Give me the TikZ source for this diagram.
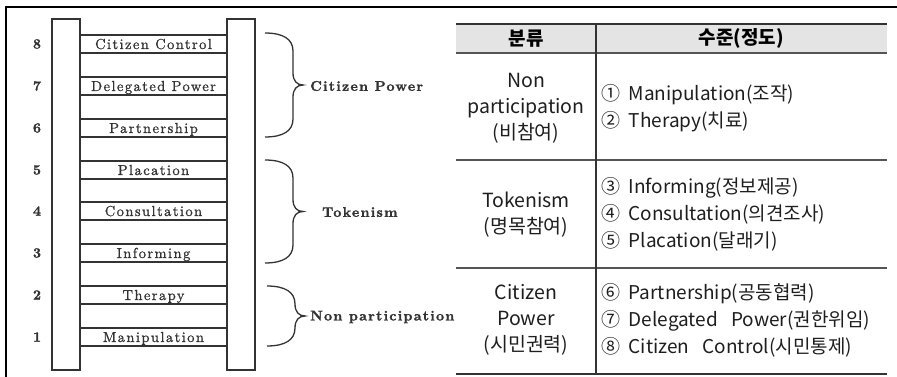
\documentclass[tikz,border=0pt]{standalone}
\usepackage{fontspec}
\newfontfamily\ladfont[LetterSpace=10, FakeBold=1]{lmroman10-regular.otf}
\newfontfamily\grpfont[LetterSpace=9, FakeBold=1.5]{lmroman10-bold.otf}
\newfontfamily\numfont[FakeBold=1.5]{lmroman10-bold.otf}
\newfontfamily\krfont{Noto Sans CJK KR}
\definecolor{ink}{HTML}{333333}
\definecolor{rule}{HTML}{555555}
\definecolor{hdrgray}{HTML}{E4E4E4}
\definecolor{txt}{HTML}{1E1E1E}
\newcommand\bracepath[3]{%
  \draw[braceline] (#1,#2) .. controls ({#1+18},#2) and ({#1+28},{#2+6}) .. ({#1+28},{#2+18})
    -- ({#1+28},{(#2+#3)/2-12}) .. controls ({#1+28},{(#2+#3)/2-4}) and ({#1+32},{(#2+#3)/2}) .. ({#1+38},{(#2+#3)/2})
    .. controls ({#1+32},{(#2+#3)/2}) and ({#1+28},{(#2+#3)/2+4}) .. ({#1+28},{(#2+#3)/2+12})
    -- ({#1+28},{#3-18}) .. controls ({#1+28},{#3-6}) and ({#1+18},#3) .. (#1,#3);}
\begin{document}
\begin{tikzpicture}[x=1pt,y=-1pt,
  rail/.style={draw=ink, line width=2pt, fill=white, minimum width=28pt, minimum height=351pt, inner sep=0pt},
  rung/.style={draw=ink, line width=1.4pt, minimum width=147pt, minimum height=18pt, inner sep=0pt,
    font=\ladfont\fontsize{14.5}{16}\selectfont, text=ink, text height=13pt, text depth=3pt},
  num/.style={font=\numfont\fontsize{14}{16}\selectfont, text=ink, inner sep=0pt},
  grp/.style={font=\grpfont\fontsize{14}{16}\selectfont, text=ink, anchor=west, inner sep=0pt},
  braceline/.style={draw=ink, line width=1.3pt},
  frame/.style={draw=black, line width=1.6pt},
  topline/.style={draw=ink, line width=2pt},
  midline/.style={draw=rule, line width=1.2pt},
  colline/.style={draw=ink, line width=1.4pt},
  kh/.style={font=\krfont\bfseries\fontsize{19}{22}\selectfont, text=black, inner sep=0pt},
  kc/.style={font=\krfont\fontsize{19.5}{26}\selectfont, text=txt, align=center, inner sep=0pt},
  kl/.style={font=\krfont\fontsize{19}{27}\selectfont, text=txt, align=left, anchor=west, inner sep=0pt}
]
\useasboundingbox (0,0) rectangle (897,377);
% outer frame
\draw[frame] (897,7) -- (6,7) -- (6,377);
% rungs
\node[rung] (r8) at (153.5,44) {Citizen Control};
\node[rung] (r7) at (153.5,86) {Delegated Power};
\node[rung] (r6) at (153.5,128) {Partnership};
\node[rung] (r5) at (153.5,170) {Placation};
\node[rung] (r4) at (153.5,211) {Consultation};
\node[rung] (r3) at (153.5,253) {Informing};
\node[rung] (r2) at (153.5,295) {Therapy};
\node[rung] (r1) at (153.5,337) {Manipulation};
% rails
\node[rail] (railL) at (66,194.5) {};
\node[rail] (railR) at (241,194.5) {};
% numbers
\node[num] (n8) at (37,44) {8};
\node[num] (n7) at (37,86) {7};
\node[num] (n6) at (37,128) {6};
\node[num] (n5) at (37,170) {5};
\node[num] (n4) at (37,211) {4};
\node[num] (n3) at (37,253) {3};
\node[num] (n2) at (37,295) {2};
\node[num] (n1) at (37,337) {1};
% braces
\bracepath{265}{33}{137}
\bracepath{265}{160}{263}
\bracepath{267}{286}{346}
\node[grp] (gcp) at (310,86) {Citizen Power};
\node[grp] (gtk) at (322,212) {Tokenism};
\node[grp] (gnp) at (310,317) {Non participation};
% table
\fill[hdrgray] (456,24) rectangle (887,53);
\draw[topline] (456,24) -- (887,24);
\draw[midline] (456,53) -- (887,53);
\draw[midline] (456,160) -- (887,160);
\draw[midline] (456,268) -- (887,268);
\draw[topline] (456,374) -- (887,374);
\draw[colline] (596,24) -- (596,374);
\node[kh] (h1) at (526,38.5) {분류};
\node[kh] (h2) at (741.5,38.5) {수준(정도)};
\node[kc] (c1) at (526,108) {Non\\participation\\(비참여)};
\node[kc] (c2) at (526,215) {Tokenism\\(명목참여)};
\node[kc] (c3) at (526,320) {Citizen\\Power\\(시민권력)};
\node[kl] (d1) at (601,108) {①\hspace{.45em}Manipulation(조작)\\②\hspace{.45em}Therapy(치료)};
\node[kl] (d2) at (601,214) {③\hspace{.45em}Informing(정보제공)\\④\hspace{.45em}Consultation(의견조사)\\⑤\hspace{.45em}Placation(달래기)};
\node[kl] (d3) at (601,320) {⑥\hspace{.45em}Partnership(공동협력)\\⑦\hspace{.45em}Delegated\hspace{.7em}Power(권한위임)\\⑧\hspace{.45em}Citizen\hspace{.7em}Control(시민통제)};
\end{tikzpicture}
\end{document}
